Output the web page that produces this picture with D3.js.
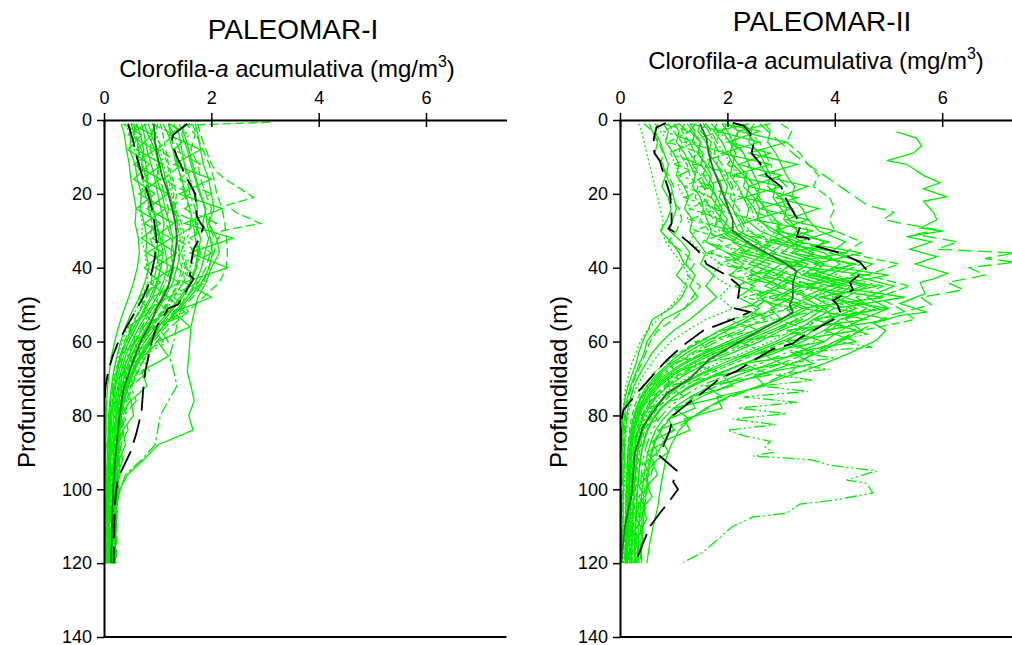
<!DOCTYPE html>
<html>
<head>
<meta charset="utf-8">
<script src="https://cdn.jsdelivr.net/npm/d3@7"></script>
<style>
  body { margin: 0; background: #fff; }
  svg { display: block; }
  text { font-family: "Liberation Sans", Arial, sans-serif; fill: #000; }
</style>
</head>
<body>
<svg id="chart" width="1012" height="645"></svg>
<script>
// ---------------- PALEOMAR-I ----------------
const depthTicks = [0, 20, 40, 60, 80, 100, 120, 140];
const chlTicks = [0, 2, 4, 6];

const gridI = [1,4,8,12,16,20,24,28,32,36,40,44,48,52,56,60,64,68,72,76,80,84,88,92,96,100,104,108,112,116,120];

const profilesI = [
  [0.32,0.38,0.42,0.47,0.5,0.55,0.6,0.58,0.64,0.66,0.62,0.55,0.46,0.36,0.27,0.2,0.14,0.1,0.07,0.05,0.04,0.04,0.03,0.03,0.02,0.02,0.02,0.02,0.02,0.01,0.01],
  [0.45,0.5,0.48,0.58,0.62,0.7,0.68,0.75,0.8,0.78,0.84,0.76,0.66,0.52,0.4,0.31,0.24,0.18,0.14,0.11,0.09,0.08,0.07,0.06,0.05,0.05,0.05,0.04,0.04,0.04,0.04],
  [0.55,0.6,0.65,0.62,0.72,0.8,0.85,0.9,0.86,0.95,0.92,0.88,0.78,0.64,0.5,0.38,0.3,0.22,0.17,0.13,0.1,0.09,0.08,0.08,0.07,0.06,0.06,0.05,0.05,0.05,0.05],
  [0.62,0.55,0.7,0.78,0.82,0.76,0.9,0.98,1.02,0.96,1.05,1.0,0.9,0.74,0.6,0.46,0.36,0.28,0.22,0.18,0.15,0.13,0.12,0.11,0.1,0.1,0.09,0.09,0.08,0.08,0.08],
  [0.4,0.48,0.56,0.68,0.74,0.7,0.66,0.72,0.7,0.76,0.8,0.82,0.7,0.58,0.44,0.34,0.26,0.2,0.15,0.12,0.1,0.09,0.08,0.07,0.07,0.06,0.06,0.06,0.05,0.05,0.05],
  [0.7,0.75,0.8,0.88,0.95,1.0,1.06,1.12,1.08,1.15,1.18,1.1,0.98,0.82,0.66,0.52,0.4,0.32,0.26,0.21,0.18,0.16,0.14,0.13,0.12,0.11,0.11,0.1,0.1,0.1,0.1],
  [0.82,0.9,0.86,0.98,1.05,1.12,1.2,1.16,1.26,1.3,1.24,1.15,1.02,0.86,0.7,0.56,0.44,0.35,0.28,0.23,0.2,0.18,0.16,0.15,0.14,0.13,0.12,0.12,0.12,0.11,0.11],
  [0.95,0.88,1.0,1.08,1.15,1.22,1.3,1.38,1.34,1.42,1.36,1.28,1.14,0.98,0.8,0.64,0.5,0.4,0.33,0.28,0.24,0.21,0.19,0.18,0.17,0.16,0.15,0.15,0.14,0.14,0.14],
  [1.05,1.1,1.15,1.2,1.28,1.35,1.32,1.45,1.5,1.44,1.52,1.4,1.26,1.08,0.88,0.7,0.56,0.45,0.36,0.3,0.26,0.23,0.21,0.2,0.19,0.18,0.17,0.17,0.16,0.16,0.16],
  [0.75,0.82,0.95,1.02,0.98,1.08,1.14,1.22,1.28,1.25,1.3,1.22,1.08,0.92,0.74,0.58,0.46,0.36,0.3,0.25,0.22,0.2,0.18,0.17,0.16,0.15,0.15,0.14,0.14,0.13,0.13],
  [1.2,1.25,1.3,1.38,1.42,1.5,1.58,1.62,1.55,1.66,1.6,1.48,1.3,1.1,0.9,0.72,0.58,0.47,0.38,0.32,0.27,0.24,0.22,0.21,0.2,0.19,0.18,0.18,0.17,0.17,0.17],
  [1.3,1.4,1.45,1.5,1.6,1.68,1.74,1.7,1.8,1.76,1.72,1.62,1.46,1.24,1.02,0.82,0.66,0.52,0.42,0.35,0.3,0.27,0.25,0.23,0.22,0.21,0.2,0.19,0.19,0.18,0.18],
  [1.5,1.45,1.55,1.62,1.7,1.78,1.9,1.84,1.95,1.88,1.82,1.7,1.55,1.32,1.1,0.88,0.7,0.56,0.46,0.38,0.33,0.3,0.28,0.26,0.25,0.24,0.23,0.22,0.22,0.21,0.21],
  [1.65,1.72,1.84,1.96,2.05,2.1,2.2,2.25,2.28,2.3,2.28,2.15,1.85,1.55,1.25,0.98,0.78,0.62,0.5,0.42,0.36,0.32,0.3,0.28,0.27,0.26,0.25,0.24,0.24,0.23,0.23],
  [0.6,0.68,0.74,0.7,0.8,0.86,0.92,0.98,1.05,1.1,1.06,0.98,0.86,0.72,0.56,0.42,0.32,0.25,0.2,0.16,0.13,0.11,0.1,0.09,0.08,0.08,0.07,0.07,0.07,0.06,0.06],
  [0.9,0.98,1.05,1.1,1.2,1.26,1.34,1.4,1.46,1.5,1.55,1.46,1.32,1.12,0.9,0.7,0.54,0.42,0.34,0.28,0.24,0.21,0.19,0.18,0.17,0.16,0.16,0.15,0.15,0.15,0.15],
  [1.1,1.2,1.28,1.35,1.45,1.52,1.6,1.66,1.7,1.75,1.7,1.6,1.42,1.2,0.96,0.76,0.6,0.48,0.39,0.32,0.28,0.25,0.23,0.22,0.21,0.2,0.19,0.19,0.18,0.18,0.18],
  [0.5,0.58,0.64,0.72,0.78,0.84,0.82,0.9,0.96,1.02,0.98,0.92,0.8,0.66,0.52,0.4,0.3,0.24,0.19,0.15,0.12,0.11,0.1,0.09,0.08,0.08,0.07,0.07,0.07,0.07,0.07],
  [1.4,1.5,1.58,1.65,1.72,1.8,1.88,1.92,1.98,2.02,1.96,1.82,1.6,1.35,1.1,0.86,0.68,0.54,0.44,0.37,0.32,0.29,0.27,0.25,0.24,0.23,0.22,0.21,0.21,0.2,0.2],
  [1.0,0.95,1.1,1.18,1.24,1.3,1.28,1.36,1.42,1.38,1.45,1.38,1.24,1.06,0.86,0.68,0.52,0.42,0.34,0.28,0.24,0.22,0.2,0.19,0.18,0.17,0.17,0.16,0.16,0.16,0.16],
  [0.5,0.9,0.6,1.1,0.7,1.2,0.8,1.3,0.9,1.35,0.95,1.4,0.9,1.2,0.7,0.9,0.45,0.6,0.3,0.4,0.2,0.28,0.14,0.2,0.1,0.15,0.08,0.12,0.07,0.1,0.07],
  [1.2,1.6,1.3,1.8,1.4,2.0,1.5,2.1,1.6,2.0,1.5,1.9,1.3,1.6,1.0,1.2,0.7,0.85,0.5,0.6,0.38,0.45,0.3,0.35,0.24,0.28,0.2,0.24,0.18,0.2,0.17],
  [0.8,0.45,0.95,0.55,1.05,0.65,1.15,0.75,1.25,0.8,1.3,0.85,1.2,0.75,0.95,0.55,0.7,0.38,0.45,0.22,0.3,0.14,0.2,0.1,0.14,0.07,0.1,0.05,0.08,0.04,0.05],
  [1.6,1.2,1.8,1.3,2.0,1.4,2.2,1.5,2.4,1.6,2.3,1.5,2.0,1.3,1.6,1.0,1.2,0.7,0.8,0.5,0.55,0.35,0.4,0.28,0.3,0.22,0.25,0.19,0.22,0.17,0.18],
  [0.9,1.3,1.0,1.45,1.1,1.6,1.2,1.75,1.3,1.8,1.35,1.75,1.2,1.5,0.9,1.1,0.6,0.75,0.4,0.5,0.28,0.36,0.2,0.28,0.16,0.22,0.13,0.18,0.12,0.15,0.12],
  [0.35,0.7,0.45,0.85,0.55,0.95,0.6,1.05,0.7,1.1,0.75,1.05,0.65,0.85,0.45,0.6,0.28,0.38,0.15,0.22,0.08,0.12,0.05,0.08,0.03,0.06,0.02,0.04,0.02,0.03,0.02]
];

// station with a surface spike
const surfI_d = [0.6,1.4,4,8,12,16,20,24,28,32,36,40,44,48,52,56,60,64,68,72,76,80,88,96,104,112,120];
const surfI_v = [3.1,1.55,1.7,1.62,1.75,1.8,1.9,2.0,1.95,2.05,1.98,1.9,1.76,1.55,1.3,1.05,0.84,0.66,0.52,0.42,0.35,0.3,0.25,0.22,0.2,0.18,0.18];
// station with a maximum near 20-30 m
const spikeI_d = [1,4,8,12,14,16,18,21,23,25,28,30,33,36,40,44,48,52,56,60,66,72,80,90,100,110,120];
const spikeI_v = [1.75,1.8,1.9,2.0,2.1,2.25,2.48,2.79,2.3,2.45,2.92,2.2,2.1,2.05,1.95,1.85,1.65,1.4,1.15,0.92,0.7,0.52,0.38,0.3,0.25,0.22,0.2];
// stations with a deep maximum
const deepI_a = [1.7,1.75,1.8,1.85,1.95,2.0,2.05,1.95,2.1,2.15,2.0,1.9,1.75,1.68,1.62,1.6,1.58,1.55,1.62,1.68,1.58,1.66,1.0,0.74,0.44,0.3,0.24,0.2,0.18,0.17,0.16];
const deepI_b = [1.2,1.3,1.4,1.5,1.55,1.6,1.7,1.75,1.7,1.8,1.72,1.6,1.5,1.42,1.35,1.3,1.22,1.3,1.36,1.2,1.05,1.0,0.95,0.7,0.4,0.3,0.22,0.19,0.17,0.16,0.15];

// summary profiles
const lowI_d = [1,6,10,16,22,26,30,33,37,41,45,48,52,56,60,64,68,72,76,80,120];
const lowI_v = [0.45,0.55,0.61,0.73,0.86,0.92,0.96,0.98,0.95,0.89,0.82,0.73,0.58,0.42,0.27,0.16,0.08,0.03,0.01,0,0];
const medI_d = [1,6,10,15,19,24,28,32,36,39,45,48,51,55,60,65,73,80,87,94,100,110,120];
const medI_v = [0.93,0.95,1.0,1.08,1.18,1.27,1.33,1.36,1.33,1.29,1.2,1.1,0.98,0.87,0.68,0.55,0.36,0.29,0.24,0.2,0.17,0.15,0.13];
const highI_d = [1,4,6,10,16,20,26,28,29,32,35,39,42,43,47,50,51,56,60,62,68,73,79,85,90,94,97,101,105,112,120];
const highI_v = [1.55,1.29,1.26,1.36,1.55,1.7,1.73,1.8,1.85,1.78,1.67,1.62,1.6,1.67,1.5,1.38,1.2,0.98,0.89,0.86,0.77,0.73,0.7,0.6,0.49,0.36,0.26,0.22,0.2,0.19,0.18];

// ---------------- PALEOMAR-II ----------------
const gridII = [1,3,6,9,12,15,18,21,24,27,30,33,36,39,42,45,48,51,54,57,60,63,66,69,72,75,78,81,84,87,90,93,96,99,102,105,108,111,114,117,120];

const profilesII = [
  [0.55,0.6,0.7,0.65,0.8,0.85,0.78,0.9,0.95,0.88, 0.75,0.95,1.1,1.2,1.05,1.25,1.15,0.95,0.6,0.52, 0.42,0.35,0.3,0.22,0.15,0.1,0.07,0.05,0.04,0.03, 0.03,0.02,0.02,0.02,0.02,0.02,0.01,0.01,0.01,0.01, 0.01],
  [0.7,0.65,0.75,0.82,0.9,0.86,0.95,1.0,1.05,0.98, 0.92,1.15,1.3,1.22,1.4,1.3,1.45,1.2,0.8,0.65, 0.5,0.45,0.36,0.28,0.2,0.14,0.1,0.08,0.06,0.05, 0.05,0.04,0.04,0.03,0.03,0.03,0.03,0.02,0.02,0.02, 0.02],
  [0.45,0.6,0.72,0.8,0.76,0.9,1.0,0.94,1.1,1.15, 1.05,0.9,1.2,1.38,1.25,1.5,1.35,1.2,1.0,0.7, 0.56,0.48,0.4,0.3,0.22,0.16,0.12,0.1,0.08,0.07, 0.06,0.06,0.05,0.05,0.05,0.04,0.04,0.04,0.04,0.03, 0.03],
  [0.8,0.9,0.85,1.0,1.1,1.05,1.2,1.28,1.2,1.35, 1.3,1.45,1.6,1.5,1.75,1.6,1.8,1.55,1.3,1.0, 0.78,0.6,0.48,0.36,0.26,0.2,0.15,0.12,0.1,0.09, 0.08,0.08,0.07,0.07,0.06,0.06,0.06,0.05,0.05,0.05, 0.05],
  [0.65,0.75,0.9,0.95,1.02,1.12,1.08,1.2,1.3,1.25, 1.4,1.3,1.55,1.9,1.7,2.05,1.85,2.1,1.6,1.25, 0.95,0.75,0.58,0.44,0.32,0.24,0.18,0.14,0.12,0.1, 0.09,0.09,0.08,0.08,0.07,0.07,0.07,0.06,0.06,0.06, 0.06],
  [1.0,1.1,1.05,1.2,1.3,1.4,1.35,1.5,1.55,1.62, 1.7,1.6,2.0,2.3,2.05,2.5,2.2,2.6,2.3,1.85, 1.5,1.15,0.9,0.68,0.5,0.38,0.3,0.24,0.2,0.17, 0.15,0.14,0.13,0.12,0.12,0.11,0.11,0.1,0.1,0.1, 0.1],
  [1.2,1.15,1.3,1.4,1.35,1.5,1.6,1.55,1.7,1.8, 1.75,2.1,2.4,2.0,2.7,2.4,2.8,2.5,2.7,2.2, 1.7,1.35,1.0,0.76,0.56,0.42,0.32,0.26,0.22,0.19, 0.17,0.16,0.15,0.14,0.13,0.13,0.12,0.12,0.11,0.11, 0.11],
  [1.4,1.3,1.5,1.45,1.6,1.7,1.65,1.8,1.9,1.85, 2.0,2.4,2.1,2.8,2.5,3.0,2.6,2.9,2.4,2.0, 1.6,1.25,0.95,0.72,0.54,0.4,0.32,0.26,0.22,0.2, 0.18,0.17,0.16,0.15,0.15,0.14,0.14,0.13,0.13,0.12, 0.12],
  [0.9,1.0,1.15,1.1,1.25,1.3,1.45,1.4,1.55,1.5, 1.65,1.9,1.7,2.2,2.5,2.2,2.7,2.3,2.5,1.9, 1.45,1.1,0.82,0.6,0.44,0.34,0.26,0.21,0.18,0.16, 0.14,0.13,0.12,0.12,0.11,0.11,0.1,0.1,0.1,0.09, 0.09],
  [1.3,1.4,1.35,1.55,1.5,1.65,1.75,1.7,1.85,2.0, 1.9,2.3,2.7,2.4,3.0,2.7,3.2,2.8,3.0,2.5, 2.0,1.55,1.15,0.85,0.62,0.46,0.36,0.29,0.24,0.21, 0.19,0.18,0.17,0.16,0.15,0.15,0.14,0.14,0.13,0.13, 0.13],
  [1.1,1.25,1.2,1.3,1.45,1.4,1.55,1.65,1.6,1.75, 1.85,2.2,2.0,2.6,2.3,2.9,2.5,3.1,2.6,2.3, 1.8,1.4,1.05,0.8,0.6,0.45,0.35,0.28,0.24,0.21, 0.19,0.18,0.17,0.16,0.15,0.15,0.14,0.13,0.13,0.12, 0.12],
  [1.5,1.45,1.6,1.7,1.65,1.8,1.9,1.85,2.0,2.1, 2.2,2.6,2.3,3.0,2.7,3.3,2.9,3.4,3.0,2.6, 2.1,1.6,1.2,0.9,0.66,0.5,0.38,0.3,0.25,0.22, 0.2,0.19,0.18,0.17,0.16,0.16,0.15,0.15,0.14,0.14, 0.14],
  [1.25,1.35,1.5,1.45,1.6,1.55,1.7,1.8,1.75,1.9, 2.1,2.5,2.9,2.6,3.2,2.9,3.5,3.1,3.3,2.8, 2.3,1.8,1.35,1.0,0.74,0.55,0.42,0.33,0.27,0.23, 0.21,0.2,0.19,0.18,0.17,0.17,0.16,0.15,0.15,0.14, 0.14],
  [1.6,1.7,1.8,1.75,1.9,2.0,2.1,2.05,2.2,2.3, 2.4,2.9,2.6,3.3,3.0,3.6,3.2,3.7,3.3,2.9, 2.4,1.9,1.45,1.1,0.82,0.62,0.48,0.38,0.31,0.27, 0.24,0.22,0.21,0.2,0.19,0.18,0.18,0.17,0.17,0.16, 0.16],
  [1.8,1.75,1.9,2.0,2.1,2.05,2.2,2.3,2.4,2.35, 2.6,3.1,2.8,3.5,3.2,3.9,3.4,3.8,3.5,3.0, 2.6,2.1,1.6,1.2,0.9,0.68,0.52,0.42,0.35,0.3, 0.27,0.25,0.23,0.22,0.21,0.2,0.2,0.19,0.18,0.18, 0.18],
  [1.7,1.85,1.8,1.95,2.05,2.2,2.15,2.3,2.45,2.5, 2.7,2.5,3.2,3.0,3.7,3.3,4.0,3.5,3.7,3.2, 2.8,2.3,1.8,1.35,1.0,0.75,0.58,0.46,0.38,0.33, 0.3,0.27,0.25,0.24,0.23,0.22,0.21,0.21,0.2,0.2, 0.2],
  [2.0,1.9,2.05,2.15,2.1,2.3,2.4,2.35,2.5,2.6, 2.8,3.3,3.0,3.7,3.4,4.1,3.6,4.0,3.6,3.3, 2.9,2.4,1.9,1.45,1.1,0.82,0.62,0.5,0.42,0.36, 0.32,0.3,0.28,0.26,0.25,0.24,0.23,0.22,0.22,0.21, 0.21],
  [1.55,1.65,1.75,1.85,1.8,1.95,2.05,2.15,2.1,2.25, 2.35,2.8,2.5,3.1,3.4,3.0,3.6,3.2,3.4,2.9, 2.5,2.0,1.5,1.15,0.86,0.65,0.5,0.4,0.33,0.29, 0.26,0.24,0.23,0.22,0.21,0.2,0.19,0.19,0.18,0.18, 0.18],
  [1.9,2.0,2.1,2.05,2.2,2.35,2.3,2.5,2.6,2.55, 2.9,3.2,3.6,3.3,3.9,3.5,4.2,3.8,4.0,3.5, 3.0,2.5,2.0,1.5,1.12,0.85,0.65,0.52,0.43,0.37, 0.33,0.31,0.29,0.27,0.26,0.25,0.24,0.23,0.23,0.22, 0.22],
  [2.1,2.2,2.15,2.3,2.4,2.35,2.5,2.6,2.7,2.8, 3.0,2.8,3.5,3.8,3.4,4.2,3.8,4.3,3.7,3.4, 3.1,2.6,2.1,1.6,1.2,0.9,0.7,0.56,0.46,0.4, 0.36,0.33,0.31,0.29,0.28,0.27,0.26,0.25,0.24,0.24, 0.24],
  [2.3,2.45,2.4,2.6,2.7,2.8,2.75,3.0,3.1,3.05, 3.3,3.8,3.5,4.3,3.9,4.6,4.2,4.8,4.1,3.8, 3.4,2.9,2.3,1.8,1.35,1.0,0.78,0.62,0.52,0.45, 0.4,0.37,0.35,0.33,0.31,0.3,0.29,0.28,0.27,0.27, 0.27],
  [2.5,2.4,2.6,2.7,2.8,2.9,3.1,3.0,3.2,3.35, 3.5,3.3,4.1,4.5,4.0,4.9,4.4,4.7,4.2,3.9, 3.6,3.1,2.6,2.0,1.5,1.15,0.9,0.72,0.6,0.52, 0.46,0.42,0.4,0.38,0.36,0.34,0.33,0.32,0.31,0.3, 0.3],
  [2.7,2.8,2.75,2.9,3.0,3.1,3.25,3.2,3.4,3.5, 3.7,4.2,3.9,4.7,4.3,5.1,4.6,5.0,4.5,4.1, 3.8,3.3,2.8,2.2,1.7,1.3,1.0,0.8,0.66,0.58, 0.52,0.48,0.45,0.42,0.4,0.38,0.36,0.35,0.34,0.33, 0.33],
  [2.2,2.35,2.5,2.45,2.6,2.75,2.9,2.85,3.0,3.15, 3.3,3.1,3.8,4.1,3.7,4.5,4.0,4.4,3.9,3.6, 3.3,2.8,2.3,1.75,1.3,1.0,0.76,0.6,0.5,0.44, 0.4,0.37,0.35,0.33,0.32,0.31,0.3,0.29,0.28,0.28, 0.28],
  [3.0,3.2,3.1,3.35,3.5,3.7,3.6,3.9,4.0,3.9, 4.0,4.5,4.2,5.2,4.6,5.4,4.8,5.2,5.5,4.5, 4.0,3.5,3.0,2.4,1.8,1.4,1.1,0.9,0.74,0.64, 0.58,0.53,0.5,0.47,0.45,0.43,0.41,0.4,0.39,0.38, 0.38],
  [2.0,2.2,2.1,2.3,2.4,2.5,2.6,2.55,2.7,2.9, 3.0,3.4,3.2,3.8,3.6,4.3,4.0,4.6,4.2,4.5, 4.1,3.7,3.2,2.6,2.0,1.5,1.15,0.92,0.76,0.66, 0.6,0.56,0.52,0.5,0.48,0.46,0.44,0.42,0.41,0.4, 0.4],
  [0.35,0.4,0.45,0.5,0.55,0.6,0.65,0.7,0.75,0.8, 0.78,0.85,1.0,1.15,1.3,1.2,1.1,0.9,0.7,0.5, 0.38,0.3,0.22,0.16,0.11,0.08,0.06,0.05,0.04,0.04, 0.03,0.03,0.03,0.03,0.02,0.02,0.02,0.02,0.02,0.02, 0.02],
  [1.6,1.5,1.7,1.65,1.8,1.9,2.0,1.95,2.1,2.2, 2.3,2.1,2.7,3.2,2.9,3.4,3.0,3.5,3.1,2.7, 2.2,1.7,1.3,0.95,0.7,0.52,0.4,0.32,0.27,0.23, 0.21,0.2,0.19,0.18,0.17,0.16,0.16,0.15,0.15,0.14, 0.14],
  [1.3,1.9,1.2,2.0,1.4,2.2,1.5,2.3,1.7,2.5, 1.9,3.0,2.2,3.4,2.4,3.8,2.7,3.9,2.9,3.6, 2.2,2.7,1.4,1.9,0.9,1.2,0.5,0.7,0.35,0.5, 0.25,0.4,0.2,0.32,0.18,0.28,0.16,0.24,0.14,0.2, 0.12],
  [2.4,1.8,2.6,1.9,2.8,2.1,3.0,2.3,3.2,2.5, 3.6,2.7,4.2,3.0,4.6,3.3,4.9,3.4,4.6,3.1, 3.8,2.6,3.0,1.9,2.1,1.3,1.4,0.9,1.0,0.6, 0.7,0.45,0.55,0.35,0.45,0.3,0.4,0.28,0.35,0.25, 0.3],
  [0.8,1.3,0.9,1.5,1.0,1.6,1.2,1.7,1.3,1.9, 1.4,2.2,1.6,2.6,2.0,3.1,2.3,3.3,2.0,2.6, 1.4,1.8,0.9,1.1,0.5,0.7,0.3,0.45,0.2,0.3, 0.15,0.25,0.12,0.2,0.1,0.17,0.09,0.15,0.08,0.12, 0.07],
  [1.9,2.6,2.0,2.8,2.2,3.0,2.4,3.3,2.6,3.5, 2.9,3.9,3.2,4.4,3.5,4.8,3.7,5.0,3.6,4.4, 3.1,3.6,2.3,2.8,1.6,1.9,1.0,1.3,0.7,0.85, 0.5,0.65,0.4,0.55,0.35,0.48,0.3,0.42,0.28,0.36, 0.25],
  [1.1,0.8,1.4,0.9,1.5,1.1,1.7,1.2,1.8,1.3, 2.1,1.5,2.5,1.8,2.9,2.1,3.2,2.2,2.9,1.9, 2.2,1.4,1.5,0.9,0.9,0.55,0.55,0.35,0.35,0.22, 0.25,0.16,0.2,0.13,0.18,0.11,0.15,0.1,0.13,0.09, 0.1],
  [2.8,2.2,3.1,2.4,3.3,2.6,3.5,2.9,3.7,3.1, 4.0,3.3,4.5,3.6,5.0,3.9,5.3,4.0,5.0,3.8, 4.4,3.2,3.6,2.5,2.7,1.8,1.9,1.2,1.3,0.8, 0.9,0.6,0.7,0.5,0.6,0.42,0.5,0.38,0.44,0.33, 0.36]
];

// station with very high values in the upper 60 m
const highA_d = [3.2,4.9,7,9,11,12,15,17,18.6,20.8,22,25,27,29.3,30,31.6,33,35,37,39,41.5,43,44,47,49.7,52,53,55,57,59.6,63,66,69,72,75,78,81,84,88,92,96,100,105,110,115,120];
const highA_v = [5.15,5.52,5.62,5.46,4.97,5.34,5.65,5.96,5.65,6.08,5.65,5.84,5.9,5.59,6.02,5.34,5.8,5.4,5.9,5.5,6.1,5.84,5.59,5.68,5.21,5.71,5.21,4.71,4.95,4.78,4.3,3.8,3.2,2.6,2.0,1.6,1.3,1.1,0.95,0.85,0.8,0.75,0.7,0.62,0.55,0.5];
// station with the maximum near 36-39 m
const highB_d = [1,5,10,15,20,23,25,27,29.7,31,33,35,36,37.5,38.5,40,42,44,46,48,50,53,56,60,64,68,72,76,80,85,90,100,110,120];
const highB_v = [2.6,2.9,3.3,3.8,4.3,4.6,5.1,4.9,5.9,5.5,6.3,5.9,7.35,6.8,7.35,6.5,6.8,6.1,6.4,5.6,5.8,5.0,4.6,4.0,3.5,3.2,2.6,1.9,1.4,0.9,0.7,0.5,0.4,0.3];
// station with a second maximum near 95-100 m
const deepII_d = [1,4,8,12,16,20,24,28,32,36,40,44,48,52,55,58,60,61.5,63,64.5,66,67.5,69,70.5,72,73.5,75,76.5,78,79.5,81,82.5,84,85.5,87,88.5,90,91,92,93.5,95,97.5,98.4,101,103,104,106.5,107.5,110,113.8,117,119.8];
const deepII_v = [1.7,1.9,2.2,2.0,2.4,2.6,2.4,3.0,2.8,3.5,3.2,4.0,3.6,4.4,4.0,4.6,4.0,4.7,3.3,4.0,3.0,3.9,2.9,3.6,2.6,3.5,2.3,3.3,2.2,3.1,2.1,2.9,2.0,2.3,2.8,2.7,2.85,2.48,3.55,3.91,4.78,4.22,4.59,4.71,3.97,3.35,3.1,2.48,2.1,1.8,1.55,1.18];

// summary profiles
const lowII_d = [0.8,2,5,9,11,16,20,25,28,29.4,31,33,35,37,39,40,42,45,48,51,52,54,57,61,65,68,71,74,78.6,82,90,120];
const lowII_v = [0.85,0.68,0.63,0.64,0.74,0.84,0.93,0.96,0.96,0.9,1.1,1.27,1.42,1.55,1.61,1.73,1.98,2.23,2.2,2.14,2.42,2.1,1.55,1.18,0.87,0.68,0.5,0.31,0.06,0.02,0.01,0.01];
const medII_d = [1,5,9,13,17,20,24,27,30,33,36,39,41,44,48,50,52,54,56,60,65,70,74,79,83,90,101,110,119];
const medII_v = [1.49,1.61,1.65,1.73,1.84,1.92,2.02,2.1,2.1,2.36,2.73,3.1,3.29,3.22,3.22,3.16,3.22,3.0,2.73,2.23,1.65,1.3,0.87,0.62,0.43,0.28,0.22,0.09,0.03];
const highII_d = [0.8,1.5,3.5,7,9,11.7,15,18,21,23.5,27,29,31.6,32,34,36,38.5,40.6,42,44,46,48.8,50,52,54,57,59,60.5,62,65,68,70,73,77,80,84,88.5,91,95,98,100,103,106.5,110,114.6,119];
const highII_v = [2.1,2.3,2.42,2.48,2.45,2.61,2.73,3.0,3.08,3.17,3.31,3.35,3.29,3.5,3.6,4.1,4.47,4.59,4.45,4.28,4.34,3.97,4.05,4.1,3.97,3.6,3.35,3.22,2.85,2.5,2.17,1.86,1.61,1.24,0.99,0.93,0.8,0.74,1.06,0.99,1.08,0.93,0.74,0.56,0.43,0.31];

// ---------------- drawing ----------------
const GREEN = "#00ec00";
const dashCycle = [null, null, "9,4", null, "2,2.5", null, "12,3,3,3", null, "6,3", null, "14,4,3,4,3,4"];

const svg = d3.select("#chart");

function drawPanel(cfg) {
  const x = d3.scaleLinear().domain(cfg.xDomain).range(cfg.xRange);
  const y = d3.scaleLinear().domain([0, 140]).range([120, 637]);
  const g = svg.append("g");

  const clipId = "clip-" + cfg.id;
  svg.append("clipPath").attr("id", clipId)
    .append("rect")
    .attr("x", cfg.xRange[0]).attr("y", y(0))
    .attr("width", cfg.xRange[1] - cfg.xRange[0]).attr("height", y(140) - y(0));

  const line = d3.line().x(d => x(d[1])).y(d => y(d[0]));
  const plot = g.append("g").attr("clip-path", `url(#${clipId})`);

  cfg.profiles.forEach((vals, i) => {
    plot.append("path")
      .datum(d3.zip(cfg.grid, vals))
      .attr("d", line)
      .attr("fill", "none")
      .attr("stroke", GREEN)
      .attr("stroke-width", 1.3)
      .attr("stroke-dasharray", dashCycle[i % dashCycle.length]);
  });

  cfg.extra.forEach(p => {
    plot.append("path")
      .datum(d3.zip(p.d, p.v))
      .attr("d", line)
      .attr("fill", "none")
      .attr("stroke", GREEN)
      .attr("stroke-width", 1.3)
      .attr("stroke-dasharray", p.dash);
  });

  // percentile envelopes (black, dashed) and median (dark green)
  [[cfg.low, "#000", "24,9", 1.8], [cfg.high, "#000", "24,9", 1.8], [cfg.med, "#2a6e2a", null, 1.8]]
    .forEach(([p, col, dash, w]) => {
      plot.append("path")
        .datum(d3.zip(p.d, p.v))
        .attr("d", line)
        .attr("fill", "none")
        .attr("stroke", col)
        .attr("stroke-width", w)
        .attr("stroke-dasharray", dash);
    });

  // top axis (ticks cross the axis line)
  const top = g.append("g").attr("transform", `translate(0,${y(0)})`)
    .call(d3.axisTop(x).tickValues(chlTicks).tickSize(7).tickSizeOuter(0).tickPadding(9).tickFormat(d3.format("d")));
  top.select(".domain").attr("stroke-width", 2);
  top.selectAll(".tick line").attr("y1", 7).attr("y2", -7).attr("stroke-width", 1.5);
  top.selectAll(".tick text").attr("font-size", 18).attr("font-family", null);

  // left axis
  const left = g.append("g").attr("transform", `translate(${cfg.xRange[0]},0)`)
    .call(d3.axisLeft(y).tickValues(depthTicks).tickSize(7).tickSizeOuter(0).tickPadding(5));
  left.select(".domain").attr("stroke-width", 2);
  left.selectAll(".tick line").attr("stroke-width", 1.5);
  left.selectAll(".tick text").attr("font-size", 18).attr("font-family", null);

  // bottom frame line
  g.append("line")
    .attr("x1", cfg.xRange[0]).attr("x2", cfg.xRange[1])
    .attr("y1", y(140)).attr("y2", y(140))
    .attr("stroke", "#000").attr("stroke-width", 2);

  // titles
  g.append("text").attr("x", cfg.titleX).attr("y", cfg.titleY)
    .attr("text-anchor", "middle").attr("font-size", 28).text(cfg.title);

  const xt = g.append("text").attr("x", cfg.axisTitleX).attr("y", cfg.axisTitleY)
    .attr("text-anchor", "middle").attr("font-size", 24);
  xt.append("tspan").text("Clorofila-");
  xt.append("tspan").attr("font-style", "italic").text("a");
  xt.append("tspan").text(" acumulativa (mg/m");
  xt.append("tspan").attr("font-size", 16).attr("dy", -10).text("3");
  xt.append("tspan").attr("dy", 10).text(")");

  g.append("text")
    .attr("transform", `translate(${cfg.yTitleX},${cfg.yTitleY}) rotate(-90)`)
    .attr("text-anchor", "middle").attr("font-size", 24)
    .text("Profundidad (m)");
}

drawPanel({
  id: "I", title: "PALEOMAR-I",
  xDomain: [0, 7.5], xRange: [104, 506.5],
  grid: gridI, profiles: profilesI,
  extra: [
    { d: surfI_d, v: surfI_v, dash: "9,4" },
    { d: spikeI_d, v: spikeI_v, dash: "9,4" },
    { d: gridI, v: deepI_a, dash: null },
    { d: gridI, v: deepI_b, dash: "12,3,3,3" }
  ],
  low: { d: lowI_d, v: lowI_v }, med: { d: medI_d, v: medI_v }, high: { d: highI_d, v: highI_v },
  titleX: 293, titleY: 39, axisTitleX: 287, axisTitleY: 77, yTitleX: 35, yTitleY: 382
});

drawPanel({
  id: "II", title: "PALEOMAR-II",
  xDomain: [0, 7.3], xRange: [620, 1012],
  grid: gridII, profiles: profilesII,
  extra: [
    { d: highA_d, v: highA_v, dash: null },
    { d: highB_d, v: highB_v, dash: "14,6" },
    { d: deepII_d, v: deepII_v, dash: "12,3,2,3,2,3" }
  ],
  low: { d: lowII_d, v: lowII_v }, med: { d: medII_d, v: medII_v }, high: { d: highII_d, v: highII_v },
  titleX: 822, titleY: 31, axisTitleX: 816, axisTitleY: 69, yTitleX: 567, yTitleY: 382
});
</script>
</body>
</html>
